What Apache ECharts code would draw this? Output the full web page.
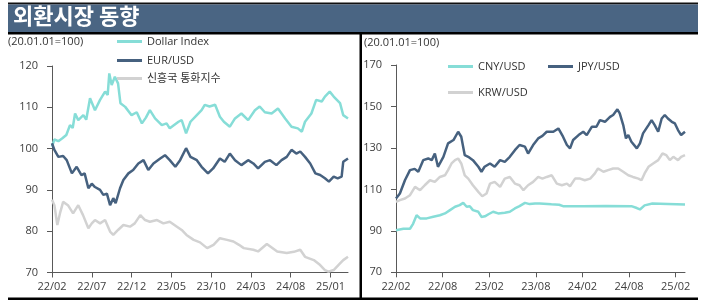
<!DOCTYPE html>
<html>
<head>
<meta charset="utf-8">
<script src="https://cdn.jsdelivr.net/npm/echarts@6/dist/echarts.min.js"></script>
<style>
  html, body { margin: 0; padding: 0; background: #fff; }
  #chart { width: 715px; height: 300px; }
</style>
</head>
<body>
<div id="chart"></div>
<script>
// x = months since 2022-02 (0 = 22/02), index 20.01.01 = 100
var dollarX = [0,0.3,0.8,1.3,1.8,2.26,2.6,2.9,3.3,3.94,4.3,4.78,5.4,6.04,6.67,7,7.2,7.5,7.9,8.3,8.6,9.2,10,10.65,11.3,11.8,12.3,12.95,13.8,14.4,14.8,15.9,16.3,16.85,17.4,18.2,18.8,19.2,19.8,20.5,21.1,21.6,22.35,23,23.8,24.65,25.5,26.1,26.75,27.6,28.4,29.3,30.1,30.9,31.4,31.8,32.6,33.2,33.9,34.3,34.9,35.4,35.8,36.2,36.6,37.2];
var dollarV = [100.5,102.2,101.8,102.5,103.3,105.7,105,108.5,106.9,108.1,107,112.2,109.3,111.8,113.8,113,118.2,115.4,117.4,115.8,111,110.1,108.1,108.8,106.1,107.5,109.3,107.3,105.7,106.1,104.9,106.5,106.9,103.7,106.5,108.1,109.3,110.6,110.2,110.6,107.7,106.5,105.3,107.3,108.5,106.9,109.3,110.2,108.8,108.5,109.7,107.3,105.3,104.9,104.1,106.5,108.5,111.8,111.4,112.6,113.8,112.6,111.8,111,108.1,107.3];

var eurX = [0,0.3,0.8,1.4,1.85,2.5,3.1,3.7,4.1,4.57,5,5.4,6.04,6.45,6.9,7.3,7.7,8,8.55,8.97,9.6,10.2,10.85,11.5,12.1,12.75,13.6,14.2,14.8,15.5,16.1,16.85,17.4,18.2,18.8,19.6,20.25,21.1,21.7,22.35,23,23.8,24.65,25.3,25.9,26.75,27.4,28.2,28.85,29.5,30.1,30.7,31.2,31.8,32.45,33.1,33.7,34.3,34.8,35.4,35.9,36.4,36.6,37.2];
var eurV = [101.3,99.7,98,98.2,97.2,94,95.6,93.6,94,90.4,91.5,90.7,90,88.8,89.1,86.3,88,86.8,90.4,92.4,94,94.8,96.4,97.2,94.8,96.4,97.6,98.4,97.2,95.6,97.2,100.1,98,97.2,95.6,94,95.2,97.6,96.8,98.8,97.2,96,97.2,96.4,95.2,96.8,97.2,96,97.2,98,99.7,98.8,99.3,98,96.4,94,93.6,92.8,92,93.2,92.8,93.2,96.8,97.6];

var emX = [0,0.3,0.67,1,1.4,2,2.65,3.3,3.9,4.57,5,5.4,6.04,6.67,7.3,7.7,8.3,8.97,9.8,10.4,11.1,11.7,12.3,13.2,14,14.8,15.7,16.3,16.9,17.8,18.6,19.5,20.3,21.1,22,22.8,23.5,24.1,25.3,25.9,27,28.3,29.5,30.4,31.2,31.8,32.9,33.7,34.3,34.75,35.4,36.2,36.6,37.2];
var emV = [87.6,86.3,81.5,84.3,87.1,86.3,84.3,86.3,83.9,80.7,81.9,82.7,81.9,82.7,79.9,79.1,80.3,81.5,81.1,81.9,83.9,82.7,82.3,82.7,81.9,82.3,81.1,80.3,79.1,77.9,77.3,75.9,76.7,78.3,77.9,77.5,76.7,75.9,75.5,75.1,76.9,75.1,74.7,75,75.5,73.8,73,71.8,70.6,70.2,70.6,72.2,73,73.8];

var cnyX = [0,0.95,1.8,2.2,2.65,3.1,3.95,4.8,5.65,6.3,6.95,7.6,8.2,8.65,9.1,9.5,9.9,10.6,11,11.45,11.9,12.5,13.15,14,14.65,15.3,15.9,16.6,17.2,17.9,18.5,20,21,21.5,24,27,30.3,31,31.4,32,33,35,37.2];
var cnyV = [90.3,91,91,93.4,97.5,96,96,96.8,97.5,98.4,100,101.6,102.4,103.5,101.6,101.9,100,99.2,96.7,97,98,99.2,98.4,98.7,99.2,100.8,101.9,103.5,102.9,103.2,103.2,102.8,102.6,101.9,101.9,102,101.9,101,100.3,102.3,103.2,103,102.7];

var jpyX = [0,0.5,1.15,1.8,2.4,2.87,3.5,4.15,4.6,5,5.4,6.1,6.7,7.4,8,8.4,8.85,9.3,9.9,10.6,11,11.4,12.1,12.7,13.4,14,14.65,15.3,15.9,16.6,17,17.65,18.3,18.85,19.4,20.25,20.9,21.5,22,22.4,22.8,23.5,24.1,24.55,25.2,25.8,26.25,26.9,27.55,27.95,28.5,28.8,29.25,29.6,29.9,30.3,31,31.4,31.8,32.5,32.9,33.3,33.75,34.2,34.6,35,35.5,35.9,36.3,36.7,37.2];
var jpyV = [105.6,108,114.4,119.3,119.9,118.5,124.1,124.9,124.1,127.3,120.9,125.7,132.2,133.8,137.8,135.4,126.5,125.7,124.1,120.9,118.5,120.9,122.5,120.9,124.1,123.3,125.7,128.9,131.4,130.6,127.3,131.4,134.6,135.8,137.8,137.8,139.4,135.4,131.4,129.8,133.8,136.2,137.8,136.2,140.2,140.2,143.4,142.6,145,145.9,148.6,146.7,141,134.6,136.2,133,129.8,132.2,137,141,143.4,141,137.8,144.2,145.9,144.2,142.6,141.8,138.6,136.2,137.8];

var krwX = [0,0.5,1.15,1.8,2.45,3.1,3.7,4.37,5,5.65,6.3,6.7,7.15,7.6,8,8.4,8.85,9.3,9.9,10.6,11.1,11.65,12.1,12.7,13.4,14,14.65,15.3,15.9,16.4,17,17.65,18.3,18.85,19.4,20.05,20.7,21.35,22,22.4,23.05,23.7,24.3,25,25.6,26,26.7,27.3,27.95,28.6,29.25,29.9,30.5,31.2,31.6,32,32.5,33.1,33.75,34.3,34.8,35.25,35.7,36.3,36.7,37.2];
var krwV = [104,104.8,105.6,107.2,111.2,109.6,112,114.4,113.6,116,116.8,119.3,122.5,124.1,124.9,122.5,116.8,115.2,112,108.8,106.7,108,112.8,113.6,111.2,115.2,116,112.8,112,109.6,112,113.6,116,115.2,116,116.8,112.8,112,112.8,111.5,115.2,115.2,114.4,115.2,117.7,120.1,118.5,119.3,120.1,120.1,118.5,116.8,116,115.2,114.4,117.7,120.9,122.5,124.1,127.3,126.5,124.1,125.7,124.1,125.7,126.5];

var leftTicks = [0, 5, 10, 15, 20, 25, 30, 35];
var rightTicks = [0, 6, 12, 18, 24, 30, 36];

var C_CYAN = '#86ddd7';
var C_NAVY = '#46617f';
var C_GREY = '#d2d2d2';
var FONT = "'Open Sans', 'Noto Sans CJK KR', sans-serif";

function zip(xs, vs) {
  var out = [];
  for (var i = 0; i < xs.length; i++) out.push([xs[i], vs[i]]);
  return out;
}
function monthLabel(m) {
  var k = 1 + Math.round(m);
  var yy = 22 + Math.floor(k / 12);
  var mm = (k % 12) + 1;
  return yy + '/' + (mm < 10 ? '0' + mm : mm);
}

function xAxisOf(gridIndex, ticks) {
  return {
    type: 'value', gridIndex: gridIndex, min: 0, max: 37.2,
    splitLine: { show: false },
    axisLine: { lineStyle: { color: '#595959', width: 1 } },
    axisTick: { show: true, length: 5, customValues: ticks, lineStyle: { color: '#595959' } },
    axisLabel: { customValues: ticks, margin: 9, color: '#404040', fontSize: 11, fontFamily: FONT,
      formatter: monthLabel }
  };
}
function yAxisOf(gridIndex, min, max, interval) {
  return {
    type: 'value', gridIndex: gridIndex, min: min, max: max, interval: interval,
    splitLine: { show: false },
    axisLine: { show: true, lineStyle: { color: '#595959', width: 1 } },
    axisTick: { show: true, length: 5, lineStyle: { color: '#595959' } },
    axisLabel: { margin: 14, color: '#404040', fontSize: 11, fontFamily: FONT }
  };
}
function lineOf(name, xi, data, color) {
  return {
    name: name, type: 'line', xAxisIndex: xi, yAxisIndex: xi,
    data: data, showSymbol: false, symbol: 'none', animation: false,
    lineStyle: { color: color, width: 2.5 }, itemStyle: { color: color }
  };
}
function legendOf(name, left, top) {
  return {
    data: [name], left: left, top: top, padding: 0, icon: 'rect', itemWidth: 25, itemHeight: 3,
    textStyle: { color: '#333', fontSize: 11, fontFamily: FONT }, selectedMode: false
  };
}

var chart = echarts.init(document.getElementById('chart'));
var option = {
  backgroundColor: '#ffffff',
  animation: false,
  grid: [
    { left: 52, right: 367, top: 66, bottom: 27.5 },
    { left: 396, right: 30, top: 65, bottom: 27.7 }
  ],
  xAxis: [xAxisOf(0, leftTicks), xAxisOf(1, rightTicks)],
  yAxis: [yAxisOf(0, 70, 120, 10), yAxisOf(1, 70, 170, 20)],
  legend: [
    legendOf('Dollar Index', 117, 36),
    legendOf('EUR/USD', 117, 55),
    legendOf('신흥국 통화지수', 117, 73),
    legendOf('CNY/USD', 448, 61),
    legendOf('JPY/USD', 548, 61),
    legendOf('KRW/USD', 448, 87)
  ],
  graphic: [
    { type: 'rect', shape: { x: 8, y: 2.5, width: 690, height: 2 }, style: { fill: '#111' } },
    { type: 'rect', shape: { x: 8, y: 4.5, width: 690, height: 27.5 }, style: { fill: '#4a6583' } },
    { type: 'rect', shape: { x: 8, y: 32, width: 690, height: 2.5 }, style: { fill: '#000' } },
    { type: 'rect', shape: { x: 359.5, y: 33, width: 2.5, height: 267 }, style: { fill: '#000' } },
    { type: 'rect', shape: { x: 8, y: 297.5, width: 690, height: 2.5 }, style: { fill: '#000' } },
    { type: 'text', left: 13, top: 5, style: { text: '외환시장 동향', fill: '#fff',
      font: "bold 22px 'Noto Sans CJK KR', sans-serif" } },
    { type: 'text', left: 8, top: 36, style: { text: '(20.01.01=100)', fill: '#333',
      font: "11px 'Open Sans', sans-serif" } },
    { type: 'text', left: 364, top: 37, style: { text: '(20.01.01=100)', fill: '#333',
      font: "11px 'Open Sans', sans-serif" } }
  ],
  series: [
    lineOf('Dollar Index', 0, zip(dollarX, dollarV), C_CYAN),
    lineOf('EUR/USD', 0, zip(eurX, eurV), C_NAVY),
    lineOf('신흥국 통화지수', 0, zip(emX, emV), C_GREY),
    lineOf('CNY/USD', 1, zip(cnyX, cnyV), C_CYAN),
    lineOf('JPY/USD', 1, zip(jpyX, jpyV), C_NAVY),
    lineOf('KRW/USD', 1, zip(krwX, krwV), C_GREY)
  ]
};
chart.setOption(option);
</script>
</body>
</html>
